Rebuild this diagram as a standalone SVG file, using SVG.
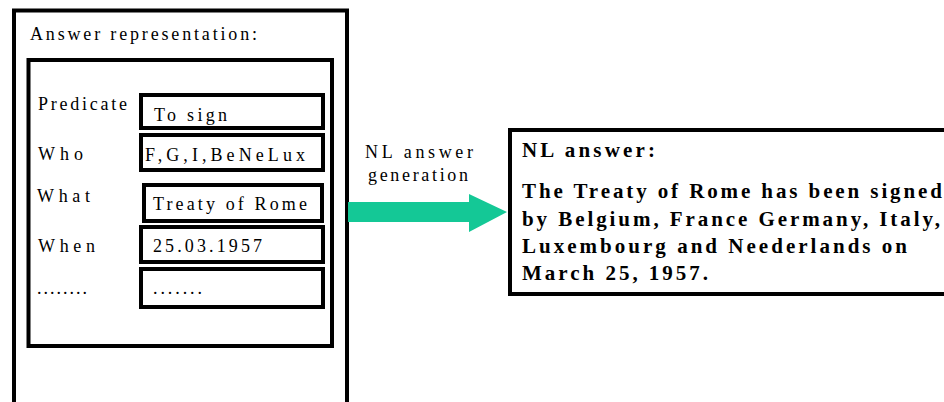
<svg xmlns="http://www.w3.org/2000/svg" width="944" height="402" viewBox="0 0 944 402">
<style>
.box{fill:#fff;stroke:#000;stroke-width:4}
.t{font-family:"Liberation Serif","Times New Roman",serif;font-size:18px;fill:#000}
.b{font-family:"Liberation Serif","Times New Roman",serif;font-size:21px;font-weight:bold;fill:#000}
.arrow{fill:#14C896;stroke:none}
</style>
<rect width="944" height="402" fill="#fff"/>
<g id="answer-representation">
<rect class="box" x="14" y="10.5" width="333" height="395"/>
<text class="t" x="30" y="40" textLength="227" lengthAdjust="spacing">Answer representation:</text>
</g>
<g id="frame">
<rect class="box" x="28.5" y="60" width="303.5" height="286"/>
</g>
<g id="predicate">
<text class="t" x="38" y="110" textLength="89" lengthAdjust="spacing">Predicate</text>
<rect class="box" x="141" y="95" width="182" height="33"/>
<text class="t" x="154" y="121" textLength="73" lengthAdjust="spacing">To sign</text>
</g>
<g id="who">
<text class="t" x="38" y="160" textLength="45" lengthAdjust="spacing">Who</text>
<rect class="box" x="141" y="135" width="182" height="35"/>
<text class="t" x="145" y="160.5" textLength="160" lengthAdjust="spacing">F,G,I,BeNeLux</text>
</g>
<g id="what">
<text class="t" x="37" y="202" textLength="53" lengthAdjust="spacing">What</text>
<rect class="box" x="144" y="185" width="178" height="36"/>
<text class="t" x="153" y="210" textLength="154" lengthAdjust="spacing">Treaty of Rome</text>
</g>
<g id="when">
<text class="t" x="38" y="252" textLength="57" lengthAdjust="spacing">When</text>
<rect class="box" x="141" y="227" width="182" height="35"/>
<text class="t" x="153" y="252" textLength="109" lengthAdjust="spacing">25.03.1957</text>
</g>
<g id="more">
<text class="t" x="37" y="294" textLength="50" lengthAdjust="spacing">........</text>
<rect class="box" x="141" y="269" width="182" height="38"/>
<text class="t" x="153" y="294" textLength="49" lengthAdjust="spacing">.......</text>
</g>
<g id="connectors">
<path class="arrow" d="M348,202 H469 V194 L507,212 L469,232 V222 H348 Z"/>
<text class="t" x="365" y="158" textLength="108" lengthAdjust="spacing">NL answer</text>
<text class="t" x="368" y="181" textLength="100" lengthAdjust="spacing">generation</text>
</g>
<g id="nl-answer">
<rect class="box" x="510" y="130" width="440" height="164"/>
<text class="b" x="522" y="157" textLength="133" lengthAdjust="spacing">NL answer:</text>
<text class="b" x="522" y="198" textLength="420" lengthAdjust="spacing">The Treaty of Rome has been signed</text>
<text class="b" x="522" y="226" textLength="418" lengthAdjust="spacing">by Belgium, France Germany, Italy,</text>
<text class="b" x="522" y="253" textLength="385" lengthAdjust="spacing">Luxembourg and Neederlands on</text>
<text class="b" x="522" y="280" textLength="186" lengthAdjust="spacing">March 25, 1957.</text>
</g>
</svg>
